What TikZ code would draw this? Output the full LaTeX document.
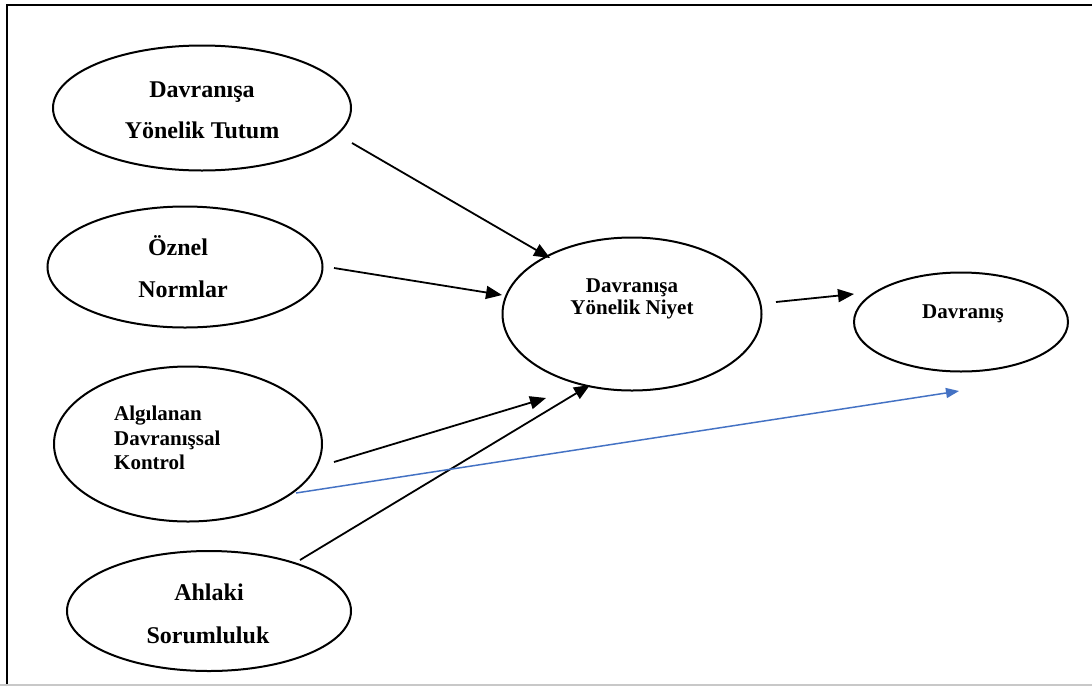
\documentclass[tikz,border=0pt]{standalone}
\usepackage{fontspec}
\setmainfont{Liberation Serif}
\usetikzlibrary{shapes.geometric,arrows.meta}
\definecolor{linkblue}{RGB}{68,114,196}
\definecolor{edgegray}{RGB}{200,200,200}
\begin{document}
\begin{tikzpicture}[x=1pt,y=-1pt,
  oval/.style={ellipse,draw,line width=2pt,inner sep=0pt},
  bigtxt/.style={font=\fontsize{24}{24}\selectfont\bfseries,anchor=base,inner sep=0pt},
  smalltxt/.style={font=\fontsize{21}{21}\selectfont\bfseries,anchor=base,inner sep=0pt},
  link/.style={line width=1.8pt,-{Triangle[length=16pt,width=13pt]}},
  bluelink/.style={linkblue,line width=1.5pt,-{Triangle[length=13pt,width=10pt]}}]
\useasboundingbox (0,0) rectangle (1092,686);
\fill[white] (0,0) rectangle (1092,686);

% frame
\draw[line width=2.5pt,line join=miter] (7,686) -- (7,5) -- (1092,5);
\draw[edgegray,line width=1.5pt] (0,685) -- (1092,685);

% ovals
\node[oval,minimum width=298pt,minimum height=125pt] (tutum) at (202,108) {};
\node[oval,minimum width=275pt,minimum height=121pt] (norm) at (185,267) {};
\node[oval,minimum width=268pt,minimum height=155pt] (kontrol) at (188,444) {};
\node[oval,minimum width=284pt,minimum height=120pt] (ahlak) at (209,611) {};
\node[oval,minimum width=259pt,minimum height=153pt] (niyet) at (632,314) {};
\node[oval,minimum width=214pt,minimum height=99pt] (davranis) at (961,322) {};

% labels
\node[bigtxt] (tutum1) at (202,97) {Davranışa};
\node[bigtxt] (tutum2) at (202,138) {Yönelik Tutum};
\node[bigtxt] (norm1) at (178,255) {Öznel};
\node[bigtxt] (norm2) at (183,297) {Normlar};
\node[smalltxt,anchor=base west] (kontrol1) at (114,420) {Algılanan};
\node[smalltxt,anchor=base west] (kontrol2) at (114,445) {Davranışsal};
\node[smalltxt,anchor=base west] (kontrol3) at (114,469) {Kontrol};
\node[bigtxt] (ahlak1) at (209,600) {Ahlaki};
\node[bigtxt] (ahlak2) at (208,643) {Sorumluluk};
\node[smalltxt] (niyet1) at (632,292) {Davranışa};
\node[smalltxt] (niyet2) at (632,314) {Yönelik Niyet};
\node[smalltxt] (davranis1) at (963,318) {Davranış};

% connector ends
\coordinate (a1s) at (352,143);  \coordinate (a1e) at (550,258);
\coordinate (a2s) at (334,268);  \coordinate (a2e) at (502,295);
\coordinate (a3s) at (334,462);  \coordinate (a3e) at (546,398);
\coordinate (a4s) at (300,560);  \coordinate (a4e) at (590,385);
\coordinate (a5s) at (776,302);  \coordinate (a5e) at (854,294);
\coordinate (a6s) at (296,493);  \coordinate (a6e) at (959,391);

\draw[link] (a1s) -- (a1e);
\draw[link] (a2s) -- (a2e);
\draw[link] (a3s) -- (a3e);
\draw[link] (a4s) -- (a4e);
\draw[link] (a5s) -- (a5e);
\draw[bluelink] (a6s) -- (a6e);
\end{tikzpicture}
\end{document}
